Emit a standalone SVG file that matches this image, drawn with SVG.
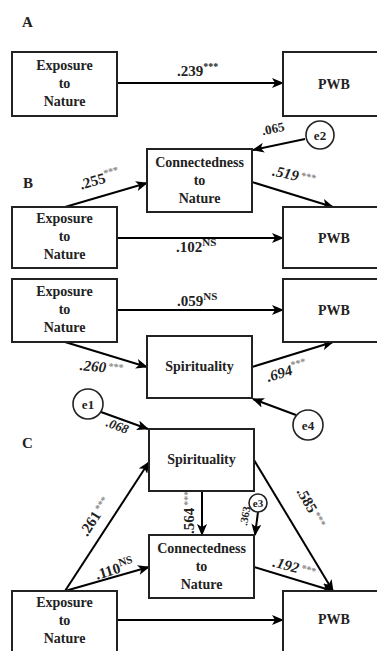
<svg xmlns="http://www.w3.org/2000/svg" width="377" height="651" viewBox="0 0 377 651">
<defs>
<marker id="ah" viewBox="0 0 12 10" refX="11" refY="5" markerWidth="12" markerHeight="10" markerUnits="userSpaceOnUse" orient="auto">
<path d="M0,0 L12,5 L0,10 L3,5 z" fill="#000"/>
</marker>
</defs>
<style>
.box{fill:#fff;stroke:#222;stroke-width:2}
.circ{fill:#fff;stroke:#222;stroke-width:1.6}
text{font-family:"Liberation Serif","Times New Roman","DejaVu Serif",serif;font-weight:bold}
.t{font-size:14px;fill:#222;text-anchor:middle}
.sec{font-size:15px;fill:#222}
.lab{font-size:15px;fill:#222}
.ital{font-style:italic}
.st{font-size:10px;fill:#888}
.ns{font-size:11px;fill:#222}
.edge{stroke:#000;stroke-width:2;fill:none;marker-end:url(#ah)}
</style>
<rect width="377" height="651" fill="#fff"/>

<text class="sec" x="22" y="27">A</text>
<text class="sec" x="23" y="188">B</text>
<text class="sec" x="22" y="448">C</text>

<g id="connectors">
<line class="edge" x1="117" y1="83" x2="283" y2="83"/>
<line class="edge" x1="65" y1="207" x2="147" y2="183"/>
<line class="edge" x1="305" y1="139" x2="253" y2="150"/>
<line class="edge" x1="252" y1="182" x2="333" y2="207"/>
<line class="edge" x1="117" y1="238" x2="283" y2="238"/>
<line class="edge" x1="117" y1="310" x2="283" y2="310"/>
<line class="edge" x1="65" y1="342" x2="147" y2="367"/>
<line class="edge" x1="252" y1="367" x2="333" y2="342"/>
<line class="edge" x1="296" y1="415" x2="253" y2="399"/>
<line class="edge" x1="101" y1="412" x2="148" y2="429"/>
<line class="edge" x1="65" y1="591" x2="149" y2="462"/>
<line class="edge" x1="65" y1="591" x2="149" y2="567"/>
<line class="edge" x1="202" y1="491" x2="202" y2="535"/>
<line class="edge" x1="258" y1="512" x2="255" y2="535"/>
<line class="edge" x1="254" y1="460" x2="333" y2="591"/>
<line class="edge" x1="254" y1="567" x2="333" y2="591"/>
<line class="edge" x1="117" y1="620" x2="283" y2="620"/>
</g>

<g id="labels">
<text class="lab" x="177" y="76">.239<tspan style="font-size:10px;fill:#222" dy="-6">***</tspan></text>
<text class="lab" transform="translate(101,184) rotate(-16)" text-anchor="middle">.255<tspan class="st" dy="-6">***</tspan></text>
<text class="lab" transform="translate(274,133) rotate(-12)" text-anchor="middle" style="font-size:13px">.065</text>
<text class="lab ital" transform="translate(293,180) rotate(12)" text-anchor="middle">.519<tspan class="st" dy="-3" dx="2">***</tspan></text>
<text class="lab" x="176" y="252">.102<tspan class="ns" dy="-6">NS</tspan></text>
<text class="lab" x="177" y="306">.059<tspan class="ns" dy="-6">NS</tspan></text>
<text class="lab ital" transform="translate(101,372) rotate(5)" text-anchor="middle">.260<tspan class="st" dy="-3" dx="2">***</tspan></text>
<text class="lab ital" transform="translate(288,376) rotate(-17)" text-anchor="middle">.694<tspan class="st" dy="-6">***</tspan></text>
<text class="lab ital" transform="translate(116,430) rotate(20)" text-anchor="middle" style="font-size:13px">.068</text>
<text class="lab" transform="translate(99,519) rotate(-57)" text-anchor="middle">.261<tspan class="st" dy="-3" dx="2">***</tspan></text>
<text class="lab" transform="translate(116,574) rotate(-17)" text-anchor="middle">.110<tspan class="ns" dy="-6">NS</tspan></text>
<text class="lab" transform="translate(194,534) rotate(-90)">.564<tspan class="st" dy="-3" dx="2">***</tspan></text>
<text class="lab" transform="translate(247,526) rotate(-80)" style="font-size:11px">.363</text>
<text class="lab" transform="translate(307,510) rotate(60)" text-anchor="middle">.585<tspan class="st" dy="-3" dx="2">***</tspan></text>
<text class="lab ital" transform="translate(293,572) rotate(15)" text-anchor="middle">.192<tspan class="st" dy="-3" dx="2">***</tspan></text>
</g>

<g id="expA"><rect class="box" x="12" y="52" width="105" height="64"/><text class="t" x="64.5" y="70">Exposure</text><text class="t" x="64.5" y="88">to</text><text class="t" x="64.5" y="106">Nature</text></g>
<g id="pwbA"><rect class="box" x="283" y="52" width="102" height="64"/><text class="t" x="334" y="89">PWB</text></g>

<g id="e2"><circle class="circ" cx="320" cy="135" r="14"/><text class="t" x="320" y="140" style="font-size:13px">e2</text></g>
<g id="connB"><rect class="box" x="147" y="149" width="105" height="63"/><text class="t" x="199.5" y="167">Connectedness</text><text class="t" x="199.5" y="185">to</text><text class="t" x="199.5" y="203">Nature</text></g>
<g id="expB1"><rect class="box" x="12" y="207" width="105" height="61"/><text class="t" x="64.5" y="223">Exposure</text><text class="t" x="64.5" y="241">to</text><text class="t" x="64.5" y="259">Nature</text></g>
<g id="pwbB1"><rect class="box" x="283" y="207" width="102" height="61"/><text class="t" x="334" y="243">PWB</text></g>

<g id="expB2"><rect class="box" x="12" y="279" width="105" height="63"/><text class="t" x="64.5" y="296">Exposure</text><text class="t" x="64.5" y="314">to</text><text class="t" x="64.5" y="332">Nature</text></g>
<g id="pwbB2"><rect class="box" x="283" y="279" width="102" height="63"/><text class="t" x="334" y="315">PWB</text></g>
<g id="spirB"><rect class="box" x="147" y="336" width="105" height="62"/><text class="t" x="199.5" y="371">Spirituality</text></g>
<g id="e4"><circle class="circ" cx="308" cy="425" r="15"/><text class="t" x="308" y="430" style="font-size:13px">e4</text></g>

<g id="e1"><circle class="circ" cx="88" cy="404" r="15"/><text class="t" x="88" y="409" style="font-size:13px">e1</text></g>
<g id="spirC"><rect class="box" x="149" y="429" width="105" height="62"/><text class="t" x="201.5" y="464">Spirituality</text></g>
<g id="e3"><circle class="circ" cx="258" cy="503" r="9"/><text class="t" x="258" y="507" style="font-size:11px">e3</text></g>
<g id="connC"><rect class="box" x="149" y="535" width="105" height="63"/><text class="t" x="201.5" y="553">Connectedness</text><text class="t" x="201.5" y="571">to</text><text class="t" x="201.5" y="589">Nature</text></g>
<g id="expC"><rect class="box" x="12" y="591" width="105" height="70"/><text class="t" x="64.5" y="607">Exposure</text><text class="t" x="64.5" y="625">to</text><text class="t" x="64.5" y="643">Nature</text></g>
<g id="pwbC"><rect class="box" x="283" y="591" width="102" height="70"/><text class="t" x="334" y="624">PWB</text></g>
</svg>
